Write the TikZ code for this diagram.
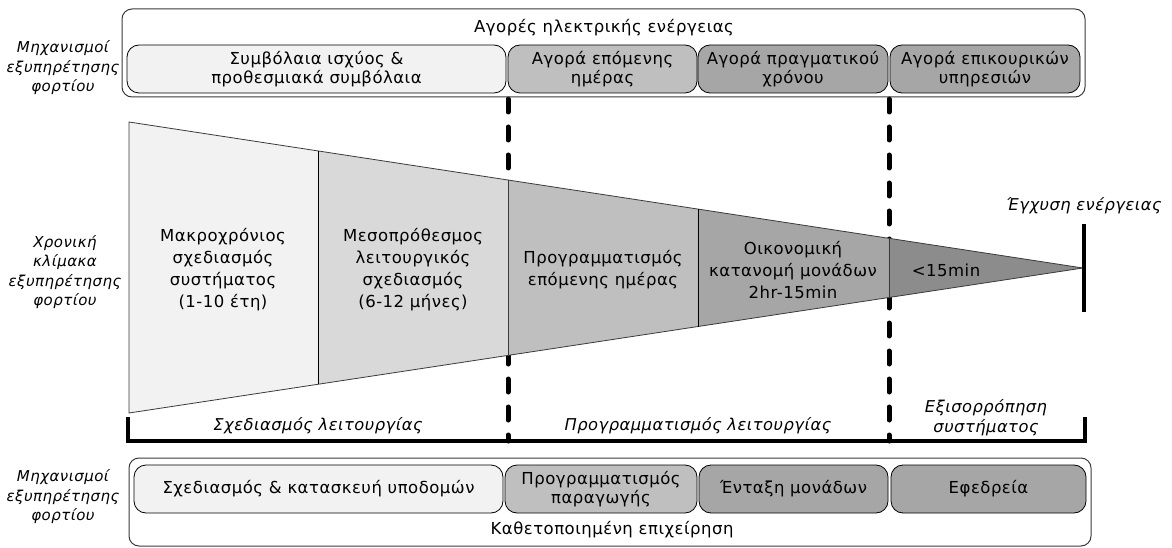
\documentclass[tikz,border=0pt]{standalone}
\usepackage{fontspec}
\setmainfont{DejaVu Sans}[LetterSpace=3]
\usetikzlibrary{calc}
\definecolor{c1}{HTML}{F2F2F2}
\definecolor{c2}{HTML}{D9D9D9}
\definecolor{c3}{HTML}{BFBFBF}
\definecolor{c4}{HTML}{A6A6A6}
\definecolor{c5}{HTML}{8C8C8C}
\definecolor{bordergray}{HTML}{3A3A3A}
\newcommand{\boxfs}{\fontsize{16.5}{19}\selectfont}
\newcommand{\trapfs}{\fontsize{16.5}{22}\selectfont}
\newcommand{\sidefs}{\fontsize{15}{19.5}\selectfont\itshape}
\newcommand{\labfs}{\fontsize{16.3}{20}\selectfont\itshape}
\begin{document}
\begin{tikzpicture}[x=1pt,y=-1pt,
  outerbox/.style={draw=bordergray, line width=1pt, rounded corners=10pt, minimum height=88pt, inner sep=0pt},
  innerbox/.style={draw=black, line width=0.8pt, rounded corners=12pt, minimum height=48pt, inner sep=0pt, align=center, font=\boxfs},
  traptext/.style={align=center, font=\trapfs, inner sep=0pt},
  sidelabel/.style={align=center, font=\sidefs, inner sep=0pt},
  ilabel/.style={align=center, font=\labfs, inner sep=0pt},
  phaseline/.style={line width=5pt, line cap=round, dash pattern=on 13pt off 15pt},
  thickline/.style={line width=4pt},
  trapline/.style={line width=0.8pt, draw=bordergray}
]
\path[use as bounding box] (0,0) rectangle (1172,548);

% dashed phase separators (behind the funnel)
\coordinate (d1top) at (508,99);
\coordinate (d1bot) at (508,441);
\coordinate (d2top) at (889,99);
\coordinate (d2bot) at (889,441);
\draw[phaseline] (d1top) -- (d1bot);
\draw[phaseline] (d2top) -- (d2bot);

% top market box
\node[outerbox, minimum width=963pt] (top) at (603.5,53) {};
\node[font=\boxfs, inner sep=0pt] (toptitle) at (604,28) {Αγορές ηλεκτρικής ενέργειας};
\node[innerbox, fill=c1, minimum width=379pt] (m1) at (316.5,69) {Συμβόλαια ισχύος \&\\προθεσμιακά συμβόλαια};
\node[innerbox, fill=c3, minimum width=189pt] (m2) at (602.5,69) {Αγορά επόμενης\\ημέρας};
\node[innerbox, fill=c4, minimum width=190pt] (m3) at (793,69) {Αγορά πραγματικού\\χρόνου};
\node[innerbox, fill=c4, minimum width=190pt] (m4) at (985,69) {Αγορά επικουρικών\\υπηρεσιών};
\node[sidelabel] (ltop) at (63,68) {Μηχανισμοί\\εξυπηρέτησης\\φορτίου};

% funnel
\coordinate (A) at (129,122);
\coordinate (B) at (129,413);
\coordinate (T) at (1083,268);
\coordinate (t1) at ($(A)!0.1981!(T)$);
\coordinate (t2) at ($(A)!0.3973!(T)$);
\coordinate (t3) at ($(A)!0.5964!(T)$);
\coordinate (t4) at ($(A)!0.7966!(T)$);
\coordinate (b1) at ($(B)!0.1981!(T)$);
\coordinate (b2) at ($(B)!0.3973!(T)$);
\coordinate (b3) at ($(B)!0.5964!(T)$);
\coordinate (b4) at ($(B)!0.7966!(T)$);
\fill[c1] (A) -- (t1) -- (b1) -- (B) -- cycle;
\fill[c2] (t1) -- (t2) -- (b2) -- (b1) -- cycle;
\fill[c3] (t2) -- (t3) -- (b3) -- (b2) -- cycle;
\fill[c4] (t3) -- (t4) -- (b4) -- (b3) -- cycle;
\fill[c5] (t4) -- (T) -- (b4) -- cycle;
\draw[trapline] (A) -- (T) -- (B) -- cycle;
\draw[trapline, draw=black] (t1) -- (b1);
\draw[trapline] (t2) -- (b2);
\draw[trapline, draw=black] (t3) -- (b3);
\draw[trapline] (t4) -- (b4);

\node[traptext] (f1) at (223,270) {Μακροχρόνιος\\σχεδιασμός\\συστήματος\\(1-10 έτη)};
\node[traptext] (f2) at (413,270) {Μεσοπρόθεσμος\\λειτουργικός\\σχεδιασμός\\(6-12 μήνες)};
\node[traptext] (f3) at (603,270) {Προγραμματισμός\\επόμενης ημέρας};
\node[traptext] (f4) at (793,270) {Οικονομική\\κατανομή μονάδων\\2hr-15min};
\node[traptext] (f5) at (946,270) {<15min};
\node[sidelabel] (lmid) at (65,272) {Χρονική\\κλίμακα\\εξυπηρέτησης\\φορτίου};

% injection bar
\coordinate (bartop) at (1084,224);
\coordinate (barbot) at (1084,312);
\draw[thickline] (bartop) -- (barbot);
\node[ilabel] (inj) at (1084,206) {Έγχυση ενέργειας};

% bracket
\coordinate (brl) at (128,417);
\coordinate (brlb) at (128,441);
\coordinate (brrb) at (1085,441);
\coordinate (brr) at (1085,417);
\draw[thickline] (brl) -- (brlb) -- (brrb) -- (brr);
\node[ilabel] (p1) at (318,426) {Σχεδιασμός λειτουργίας};
\node[ilabel] (p2) at (698,426) {Προγραμματισμός λειτουργίας};
\node[ilabel] (p3) at (986,418) {Εξισορρόπηση\\συστήματος};

% bottom box
\node[outerbox, minimum width=962pt] (bot) at (610,502) {};
\node[innerbox, fill=c1, minimum width=369pt] (v1) at (318.5,489) {Σχεδιασμός \& κατασκευή υποδομών};
\node[innerbox, fill=c3, minimum width=192pt] (v2) at (601,489) {Προγραμματισμός\\παραγωγής};
\node[innerbox, fill=c4, minimum width=189pt] (v3) at (793.5,489) {Ένταξη μονάδων};
\node[innerbox, fill=c4, minimum width=195pt] (v4) at (988.5,489) {Εφεδρεία};
\node[font=\boxfs, inner sep=0pt] (bottitle) at (612,530) {Καθετοποιημένη επιχείρηση};
\node[sidelabel] (lbot) at (63,497) {Μηχανισμοί\\εξυπηρέτησης\\φορτίου};
\end{tikzpicture}
\end{document}
